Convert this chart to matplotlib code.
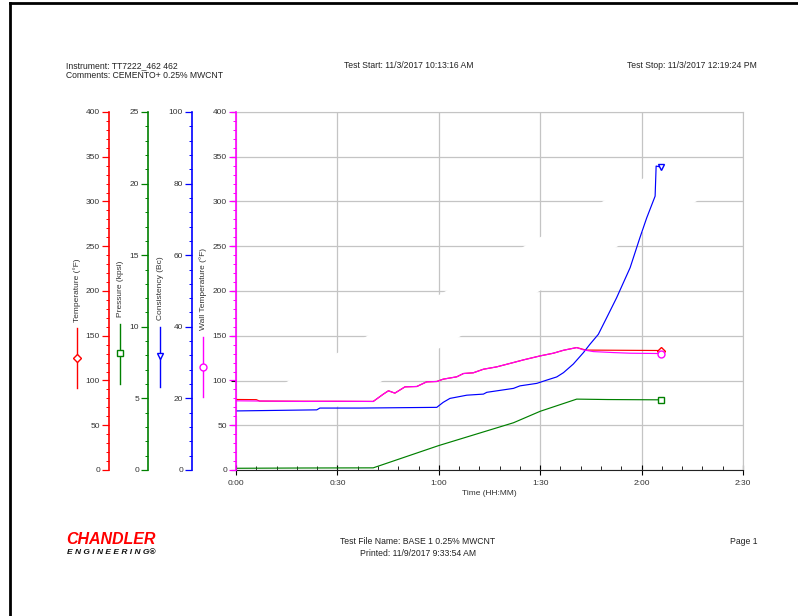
import matplotlib
matplotlib.use("Agg")
import matplotlib.pyplot as plt
from matplotlib.lines import Line2D
from matplotlib.patches import Polygon
from matplotlib.ticker import MultipleLocator

plt.rcParams['font.family'] = ['Liberation Sans', 'DejaVu Sans']

# time in minutes since test start
temp_t = [0, 6, 7, 40.6, 43.6, 45.1, 47.0, 50.0, 53.5, 56.4, 59.4, 61.3, 65.3, 67.3,
          70.2, 73.2, 77.1, 82.1, 85.0, 90.0, 93.9, 96.9, 100.8, 103.5, 125.8]
temp_v = [78.8, 78.6, 77.0, 76.6, 84.8, 88.5, 85.9, 92.9, 93.3, 98.5, 98.9, 101.5, 104.1, 107.8,
          108.6, 112.6, 115.2, 120.1, 123.0, 127.5, 130.5, 133.8, 136.8, 134.0, 133.5]

wall_t = [0, 20, 30, 40.6, 43.6, 45.1, 47.0, 50.0, 53.5, 56.4, 59.4, 61.3, 65.3, 67.3, 70.2,
          73.2, 77.1, 82.1, 85.0, 90.0, 93.9, 96.9, 100.8, 102.8, 105.7, 111.7, 116.6, 125.8]
wall_v = [77.3, 76.6, 76.8, 76.6, 84.8, 88.5, 85.9, 92.9, 93.3, 98.5, 98.9, 101.5, 104.1, 107.8, 108.6,
          112.6, 115.2, 120.1, 123.0, 127.5, 130.5, 133.8, 136.8, 134.2, 132.3, 131.2, 130.5, 130.1]

press_t = [0, 20, 40.6, 59.9, 82.1, 90.0, 100.8, 110, 125.8]
press_v = [0.12, 0.14, 0.15, 1.7, 3.3, 4.1, 4.95, 4.92, 4.9]

cons_t = [0, 23.9, 24.8, 36.7, 59.4, 61.3, 63.3, 68.3, 73.2, 74.2, 82.1, 84.0, 89.0, 91.9,
          94.9, 96.9, 99.8, 102.8, 104.7, 107.2, 109.7, 112.6, 116.6, 119.5, 121.5, 124.0, 124.3, 125.8]
cons_v = [16.5, 16.8, 17.3, 17.3, 17.5, 18.9, 20.0, 20.9, 21.2, 21.7, 22.8, 23.5, 24.2, 25.1,
          26.0, 27.2, 29.6, 32.8, 35.1, 37.9, 42.6, 48.1, 56.5, 64.9, 70.4, 76.5, 84.9, 84.6]

xticks = [0, 30, 60, 90, 120, 150]
xlabels = ["0:00", "0:30", "1:00", "1:30", "2:00", "2:30"]

W, H = 798, 616
fig = plt.figure(figsize=(W / 100, H / 100), dpi=100)

def fx(px):
    return px / W

def fy(py):
    return 1 - py / H

ax = fig.add_axes([fx(236), fy(470), (743 - 236) / W, (470 - 112) / H])
ax.set_xlim(0, 150)
ax.set_ylim(0, 400)
ax.set_axisbelow(True)
ax.set_xticks(xticks)
ax.set_xticklabels(xlabels, fontsize=6, color='#333333')
ax.xaxis.set_minor_locator(MultipleLocator(6))
ax.tick_params(axis='x', which='major', direction='inout', length=7, width=0.8, pad=4)
ax.tick_params(axis='x', which='minor', direction='in', length=3, width=0.6)
ax.set_xlabel("Time (HH:MM)", fontsize=6, color='#333333', labelpad=2)
ax.set_yticks(range(0, 401, 50))
ax.tick_params(axis='y', left=False, labelleft=False)
ax.grid(True, color='#c4c4c4', linewidth=0.9)
for s in ['top', 'right']:
    ax.spines[s].set_color('#c4c4c4')
ax.spines['left'].set_visible(False)
ax.spines['bottom'].set_color('#222222')

# gap in the grid seen on the print-out
ax.add_patch(Polygon([(0.3, 60), (25, 60), (149, 327.8), (149, 338), (126.1, 338), (0.3, 66.7)],
                     closed=True, facecolor='white', edgecolor='none', zorder=1))

def side_axis(pos, color, lim, major, minor):
    a = ax.twinx()
    a.set_ylim(*lim)
    for s in ['top', 'right', 'bottom']:
        a.spines[s].set_visible(False)
    a.spines['left'].set_visible(True)
    a.spines['left'].set_position(('axes', pos))
    a.spines['left'].set_color(color)
    a.spines['left'].set_linewidth(1.2)
    a.yaxis.set_ticks_position('left')
    a.yaxis.set_label_position('left')
    a.yaxis.set_major_locator(MultipleLocator(major))
    a.yaxis.set_minor_locator(MultipleLocator(minor))
    a.tick_params(axis='y', which='major', colors=color, labelcolor='#333333',
                  labelsize=6, length=5, width=0.9, pad=1.5)
    a.tick_params(axis='y', which='minor', colors=color, direction='out', length=2.5, width=0.7)
    return a

ax_temp = side_axis((109 - 236) / 507, 'red', (0, 400), 50, 10)
ax_press = side_axis((148 - 236) / 507, 'green', (0, 25), 5, 1)
ax_cons = side_axis((192 - 236) / 507, 'blue', (0, 100), 20, 4)
ax_wall = side_axis(0.0, 'magenta', (0, 400), 50, 10)

lw = 0.85
mk = dict(markevery=[-1], markersize=5, markerfacecolor='white', markeredgewidth=1)
ax_temp.plot(temp_t, temp_v, color='red', lw=lw, marker='D', markeredgecolor='red', **dict(mk, markersize=4))
ax_press.plot(press_t, press_v, color='green', lw=lw, marker='s', markeredgecolor='green', **mk)
ax_cons.plot(cons_t, cons_v, color='blue', lw=lw, marker='v', markeredgecolor='blue', **mk)
ax_wall.plot(wall_t, wall_v, color='magenta', lw=lw, marker='o', markeredgecolor='magenta', **mk)

# axis titles with legend keys
keys = [("Temperature (°F)", 77, 322, 328, 388, 358, 'red', 'D', 4),
        ("Pressure (kpsi)", 120, 317, 324, 384, 353, 'green', 's', 5),
        ("Consistency (Bc)", 160, 320, 327, 387, 356, 'blue', 'v', 5),
        ("Wall Temperature (°F)", 203, 330, 337, 397, 367, 'magenta', 'o', 5)]
for name, x, ty, y0, y1, ym, c, m, ms in keys:
    fig.text(fx(x), fy(ty), name, rotation=90, ha='center', va='bottom', fontsize=6, color='#333333')
    fig.add_artist(Line2D([fx(x), fx(x)], [fy(y0), fy(y1)], color=c, lw=1))
    fig.add_artist(Line2D([fx(x)], [fy(ym)], color=c, marker=m, markersize=ms,
                          markerfacecolor='white', markeredgecolor=c, markeredgewidth=1))

# header
hs = 6.2
fig.text(fx(66), fy(66), "Instrument: TT7222_462 462", fontsize=hs, va='center', color='#222222')
fig.text(fx(66), fy(76), "Comments: CEMENTO+ 0.25% MWCNT", fontsize=hs, va='center', color='#222222')
fig.text(fx(409), fy(66), "Test Start: 11/3/2017 10:13:16 AM", fontsize=hs, va='center', ha='center', color='#222222')
fig.text(fx(757), fy(66), "Test Stop: 11/3/2017 12:19:24 PM", fontsize=hs, va='center', ha='right', color='#222222')

# footer
fig.text(fx(66), fy(539), "CHANDLER", fontsize=11.5, fontweight='bold', fontstyle='italic',
         color='red', va='center')
fig.text(fx(67), fy(553), "E N G I N E E R I N G®", fontsize=6, fontweight='bold', fontstyle='italic',
         color='#111111', va='center')
fig.text(fx(418), fy(541), "Test File Name: BASE 1 0.25% MWCNT", fontsize=hs, va='center', ha='center', color='#222222')
fig.text(fx(418), fy(553), "Printed: 11/9/2017 9:33:54 AM", fontsize=hs, va='center', ha='center', color='#222222')
fig.text(fx(757), fy(541), "Page 1", fontsize=hs, va='center', ha='right', color='#222222')

# page frame
fig.add_artist(Line2D([fx(10), 1], [fy(3), fy(3)], color='black', lw=2))
fig.add_artist(Line2D([fx(10), fx(10)], [fy(3), 0], color='black', lw=2))

fig.savefig("out.png", dpi=100)
